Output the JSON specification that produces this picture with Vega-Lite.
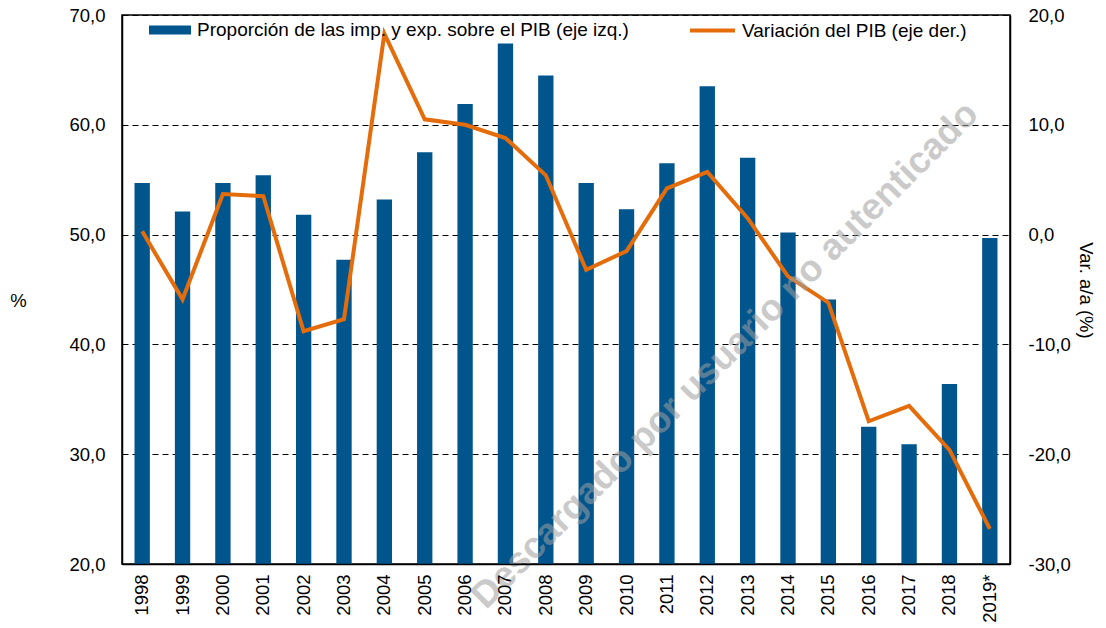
{
  "$schema": "https://vega.github.io/schema/vega-lite/v6.json",
  "autosize": {"type": "none"},
  "width": 888,
  "height": 549,
  "padding": {"left": 122, "top": 15, "right": 96, "bottom": 64},
  "background": "white",
  "config": {
    "view": {"stroke": "black", "strokeWidth": 1.5},
    "font": "Liberation Sans",
    "axis": {
      "labelFont": "Liberation Sans",
      "labelFontSize": 18.5,
      "labelColor": "black",
      "titleFont": "Liberation Sans",
      "titleFontSize": 18.5,
      "titleFontWeight": "normal",
      "titleColor": "black",
      "domainColor": "black",
      "domainWidth": 1.5,
      "ticks": false
    },
    "legend": {
      "labelFont": "Liberation Sans",
      "labelFontSize": 19,
      "labelColor": "black",
      "labelLimit": 700,
      "padding": 0
    }
  },
  "data": {
    "values": [
      {"year": "1998", "share": 54.7, "gdp": 0.3},
      {"year": "1999", "share": 52.1, "gdp": -5.9},
      {"year": "2000", "share": 54.7, "gdp": 3.7},
      {"year": "2001", "share": 55.4, "gdp": 3.5},
      {"year": "2002", "share": 51.8, "gdp": -8.8},
      {"year": "2003", "share": 47.7, "gdp": -7.7},
      {"year": "2004", "share": 53.2, "gdp": 18.3},
      {"year": "2005", "share": 57.5, "gdp": 10.5},
      {"year": "2006", "share": 61.9, "gdp": 10.0},
      {"year": "2007", "share": 67.4, "gdp": 8.8},
      {"year": "2008", "share": 64.5, "gdp": 5.4},
      {"year": "2009", "share": 54.7, "gdp": -3.2},
      {"year": "2010", "share": 52.3, "gdp": -1.5},
      {"year": "2011", "share": 56.5, "gdp": 4.2},
      {"year": "2012", "share": 63.5, "gdp": 5.7},
      {"year": "2013", "share": 57.0, "gdp": 1.5},
      {"year": "2014", "share": 50.2, "gdp": -3.8},
      {"year": "2015", "share": 44.1, "gdp": -6.2},
      {"year": "2016", "share": 32.5, "gdp": -17.0},
      {"year": "2017", "share": 30.9, "gdp": -15.6},
      {"year": "2018", "share": 36.4, "gdp": -19.6},
      {"year": "2019*", "share": 49.7, "gdp": -26.8}
    ]
  },
  "encoding": {
    "x": {
      "field": "year",
      "type": "nominal",
      "sort": null,
      "scale": {"paddingInner": 0.62, "paddingOuter": 0.31},
      "axis": {
        "title": null,
        "labelAngle": -90,
        "labelAlign": "right",
        "labelBaseline": "middle",
        "labelPadding": 10,
        "grid": false,
        "zindex": 1
      }
    }
  },
  "layer": [
    {
      "mark": {"type": "bar", "color": "#00558C"},
      "encoding": {
        "y": {
          "field": "share",
          "type": "quantitative",
          "scale": {"domain": [20, 70], "nice": false, "zero": false},
          "axis": {
            "orient": "left",
            "title": "%",
            "titleAngle": 0,
            "titleAlign": "center",
            "titleBaseline": "middle",
            "titleX": -104,
            "titleY": 285,
            "values": [20, 30, 40, 50, 60, 70],
            "labelExpr": "replace(format(datum.value, '.1f'), '.', ',')",
            "labelPadding": 17,
            "grid": true,
            "gridColor": "black",
            "gridDash": [6, 4],
            "gridWidth": 1.2
          }
        },
        "y2": {"datum": 20},
        "fill": {
          "datum": "Proporción de las imp. y exp. sobre el PIB (eje izq.)",
          "scale": {"range": ["#00558C"]},
          "legend": {
            "title": null,
            "orient": "none",
            "legendX": 26,
            "legendY": -7,
            "symbolType": "M-1,-0.21H1V0.21H-1Z",
            "symbolSize": 1764,
            "symbolOpacity": 1,
            "labelOffset": 5
          }
        }
      }
    },
    {
      "mark": {"type": "line", "strokeWidth": 4},
      "encoding": {
        "y": {
          "field": "gdp",
          "type": "quantitative",
          "scale": {"domain": [-30, 20], "nice": false, "zero": false},
          "axis": {
            "orient": "right",
            "title": "Var. a/a (%)",
            "titleAngle": 90,
            "titleAlign": "center",
            "titleBaseline": "middle",
            "titleX": 75,
            "titleY": 275,
            "values": [-30, -20, -10, 0, 10, 20],
            "labelExpr": "(datum.value < 0 ? '-' : '') + replace(format(abs(datum.value), '.1f'), '.', ',')",
            "labelPadding": 18,
            "grid": false
          }
        },
        "stroke": {
          "datum": "Variación del PIB (eje der.)",
          "scale": {"range": ["#E46C0A"]},
          "legend": {
            "title": null,
            "orient": "none",
            "legendX": 566,
            "legendY": -9,
            "symbolType": "stroke",
            "symbolSize": 2025,
            "symbolStrokeWidth": 4,
            "labelOffset": 5
          }
        }
      }
    },
    {
      "data": {"values": [{"label": "Descargado por usuario no autenticado", "yv": 39}]},
      "mark": {
        "type": "text",
        "angle": -45,
        "fontSize": 37,
        "fontWeight": "bold",
        "font": "Liberation Sans",
        "fill": "#a0a0a0",
        "opacity": 0.55,
        "align": "center",
        "baseline": "middle",
        "xOffset": 18
      },
      "encoding": {
        "x": {"datum": "2012"},
        "y": {"field": "yv", "type": "quantitative", "scale": {"domain": [20, 70], "nice": false, "zero": false}, "axis": null},
        "text": {"field": "label"}
      }
    }
  ],
  "resolve": {"scale": {"y": "independent", "fill": "independent", "stroke": "independent"}}
}
